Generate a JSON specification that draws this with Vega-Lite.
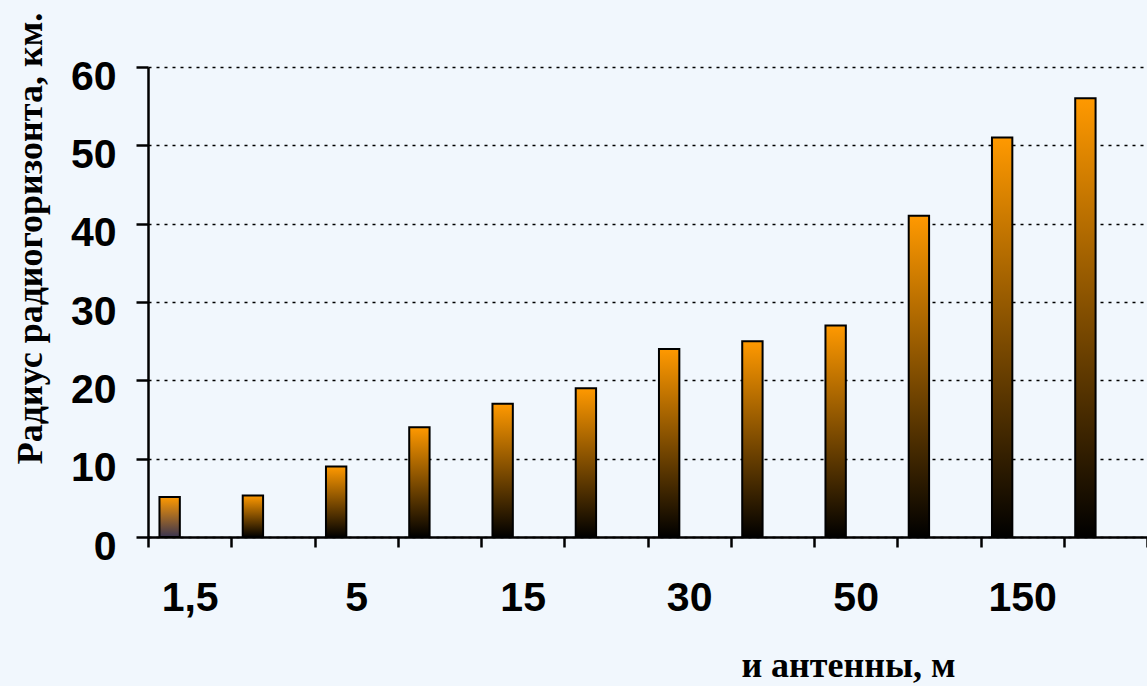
{
  "$schema": "https://vega.github.io/schema/vega-lite/v6.json",
  "width": 999,
  "height": 470,
  "autosize": {"type": "none"},
  "padding": {"left": 148, "top": 67, "right": 0, "bottom": 149},
  "background": "#f1f7fd",
  "config": {
    "view": {"stroke": null},
    "axis": {
      "labelFont": "Liberation Sans",
      "labelFontWeight": "bold",
      "labelFontSize": 41,
      "labelColor": "#000000",
      "titleFont": "Liberation Serif",
      "titleFontWeight": "bold",
      "titleFontSize": 36,
      "titleColor": "#000000",
      "domainColor": "#000000",
      "domainWidth": 2.5,
      "tickColor": "#000000",
      "tickWidth": 2.5
    }
  },
  "data": {
    "values": [
      {"h": "1,5", "r": 5.1, "s": "Радиус"},
      {"h": "3", "r": 5.3, "s": "Радиус"},
      {"h": "5", "r": 9, "s": "Радиус"},
      {"h": "10", "r": 14, "s": "Радиус"},
      {"h": "15", "r": 17, "s": "Радиус"},
      {"h": "20", "r": 19, "s": "Радиус"},
      {"h": "30", "r": 24, "s": "Радиус"},
      {"h": "40", "r": 25, "s": "Радиус"},
      {"h": "50", "r": 27, "s": "Радиус"},
      {"h": "100", "r": 41, "s": "Радиус"},
      {"h": "150", "r": 51, "s": "Радиус"},
      {"h": "200", "r": 56, "s": "Радиус"}
    ]
  },
  "mark": {"type": "bar", "stroke": "#000000", "strokeWidth": 2},
  "encoding": {
    "x": {
      "field": "h",
      "type": "nominal",
      "sort": null,
      "scale": {"paddingInner": 0, "paddingOuter": 0},
      "axis": {
        "title": "и антенны, м",
        "titleX": 700,
        "titleY": 139,
        "titleAlign": "center",
        "titleBaseline": "alphabetic",
        "labelAngle": 0,
        "labelBaseline": "top",
        "labelPadding": 31,
        "labelExpr": "indexof(['1,5', '5', '15', '30', '50', '150'], datum.value) >= 0 ? datum.value : ''",
        "tickBand": "extent",
        "tickSize": 10,
        "grid": false
      }
    },
    "xOffset": {
      "field": "s",
      "type": "nominal",
      "scale": {"domain": ["Радиус", "—"], "paddingInner": 0.49, "paddingOuter": 0.287}
    },
    "y": {
      "field": "r",
      "type": "quantitative",
      "scale": {"domain": [0, 60], "nice": false},
      "axis": {
        "title": "Радиус радиогоризонта, км.",
        "titleX": -118,
        "titleY": 171,
        "titleAlign": "center",
        "titleBaseline": "middle",
        "values": [0, 10, 20, 30, 40, 50, 60],
        "tickSize": 12,
        "labelPadding": 20,
        "labelOffset": 10,
        "grid": true,
        "gridColor": "#000000",
        "gridDash": [3, 5],
        "gridWidth": 1.5
      }
    },
    "fill": {
      "condition": {
        "test": "datum.h === '1,5'",
        "value": {
          "gradient": "linear", "x1": 0, "y1": 0, "x2": 0, "y2": 1,
          "stops": [
            {"offset": 0, "color": "#ff9900"},
            {"offset": 1, "color": "#3a3450"}
          ]
        }
      },
      "value": {
        "gradient": "linear", "x1": 0, "y1": 0, "x2": 0, "y2": 1,
        "stops": [
          {"offset": 0, "color": "#ff9900"},
          {"offset": 1, "color": "#000000"}
        ]
      }
    }
  }
}
